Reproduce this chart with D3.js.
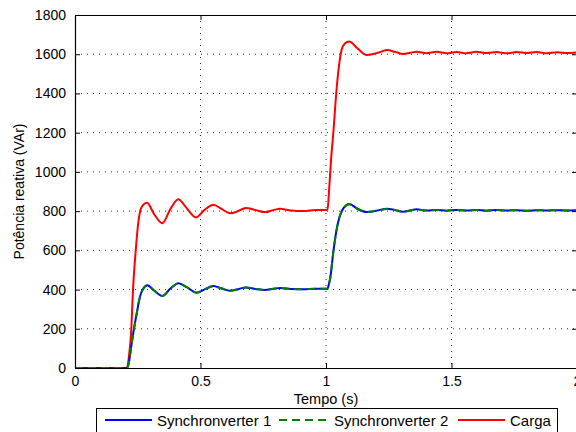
<!DOCTYPE html>
<html>
<head>
<meta charset="utf-8">
<script src="https://cdn.jsdelivr.net/npm/d3@7"></script>
<style>
  body { margin: 0; background: #fff; }
  svg { display: block; font-family: 'Liberation Sans', Arial, sans-serif; }
</style>
</head>
<body>
<svg></svg>
<script>
const margin = { top: 15, right: -1, bottom: 64, left: 75 };
const W = 576, H = 432;
const w = W - margin.left - margin.right;
const h = H - margin.top - margin.bottom;

// time stamps (s) and reactive power (VAr)
const tSync = [0, 0.208, 0.215, 0.223, 0.232, 0.246, 0.259, 0.272, 0.288, 0.315, 0.348, 0.38, 0.412, 0.445,
  0.485, 0.515, 0.551, 0.585, 0.618, 0.65, 0.68, 0.72, 0.757, 0.79, 0.817, 0.86, 0.91, 0.96, 1.006,
  1.011, 1.017, 1.029, 1.042, 1.055, 1.069, 1.093, 1.125, 1.162, 1.2, 1.244, 1.275, 1.308, 1.335, 1.361,
  1.4, 1.44, 1.48, 1.52, 1.56, 1.6, 1.64, 1.68, 1.72, 1.76, 1.8, 1.84, 1.88, 1.92, 1.96, 2.0];
const qSync1 = [0, 0, 30, 100, 177, 279, 364, 405, 422, 395, 367, 405, 432, 412,
  384, 400, 418, 405, 394, 402, 411, 403, 398, 404, 408, 403, 402, 404, 404,
  425, 460, 590, 704, 775, 814, 836, 812, 795, 802, 812, 805, 797, 803, 809,
  803, 806, 802, 806, 803, 806, 802, 806, 803, 805, 802, 805, 803, 805, 803, 804];
const qSync2 = [0, 0, 30, 100, 176, 278, 363, 404, 421, 395, 367, 404, 431, 412,
  384, 400, 417, 405, 394, 402, 410, 403, 398, 404, 408, 403, 402, 404, 404,
  424, 459, 589, 703, 775, 813, 835, 812, 795, 802, 811, 805, 797, 803, 808,
  803, 806, 802, 806, 803, 806, 802, 806, 803, 805, 802, 805, 803, 805, 803, 804];

const tLoad = [0, 0.207, 0.215, 0.223, 0.232, 0.242, 0.252, 0.265, 0.287, 0.315, 0.348, 0.38, 0.412, 0.445,
  0.482, 0.515, 0.551, 0.585, 0.618, 0.65, 0.68, 0.72, 0.757, 0.79, 0.817, 0.86, 0.91, 0.96, 1.006,
  1.012, 1.02, 1.029, 1.043, 1.062, 1.075, 1.093, 1.125, 1.162, 1.2, 1.244, 1.275, 1.308, 1.335, 1.361,
  1.4, 1.44, 1.48, 1.52, 1.56, 1.6, 1.64, 1.68, 1.72, 1.76, 1.8, 1.84, 1.88, 1.92, 1.96, 2.0];
const qLoad = [0, 0, 60, 170, 420, 600, 740, 820, 843, 785, 738, 810, 860, 815,
  768, 805, 833, 810, 789, 800, 816, 805, 795, 805, 812, 803, 800, 806, 806,
  900, 1060, 1197, 1434, 1621, 1655, 1665, 1630, 1596, 1605, 1621, 1612, 1601, 1607, 1613,
  1605, 1612, 1605, 1611, 1605, 1612, 1606, 1611, 1605, 1611, 1606, 1611, 1605, 1610, 1606, 1609];

const xTicks = [0, 0.5, 1, 1.5, 2];
const yTicks = [0, 200, 400, 600, 800, 1000, 1200, 1400, 1600, 1800];
const seriesNames = ['Synchronverter 1', 'Synchronverter 2', 'Carga'];

const svg = d3.select('svg').attr('width', W).attr('height', H);
const g = svg.append('g').attr('transform', `translate(${margin.left}, ${margin.top})`);

const xScale = d3.scaleLinear().domain([0, 2]).range([0, w]);
const yScale = d3.scaleLinear().domain([0, 1800]).range([h, 0]);

// dotted grid
g.selectAll('.gx').data(xTicks.slice(1, -1)).enter().append('line')
  .attr('x1', d => xScale(d)).attr('x2', d => xScale(d))
  .attr('y1', 0).attr('y2', h)
  .attr('stroke', '#333').attr('stroke-width', 1).attr('stroke-dasharray', '1,5');
g.selectAll('.gy').data(yTicks.slice(1, -1)).enter().append('line')
  .attr('x1', 0).attr('x2', w)
  .attr('y1', d => yScale(d)).attr('y2', d => yScale(d))
  .attr('stroke', '#333').attr('stroke-width', 1).attr('stroke-dasharray', '1,5');

const line = (ts) => d3.line()
  .x((d, i) => xScale(ts[i]))
  .y(d => yScale(d))
  .curve(d3.curveMonotoneX);

g.append('path').datum(qLoad).attr('d', line(tLoad))
  .attr('fill', 'none').attr('stroke', '#ff0000').attr('stroke-width', 2);
g.append('path').datum(qSync1).attr('d', line(tSync))
  .attr('fill', 'none').attr('stroke', '#0000ff').attr('stroke-width', 2);
g.append('path').datum(qSync2).attr('d', line(tSync))
  .attr('fill', 'none').attr('stroke', '#008000').attr('stroke-width', 2)
  .attr('stroke-dasharray', '8,5');

// axes with inward ticks
const yAxis = d3.axisLeft(yScale).tickValues(yTicks).tickFormat(d3.format('d'))
  .tickSizeInner(-5).tickSizeOuter(0).tickPadding(9);
const xAxis = d3.axisBottom(xScale).tickValues(xTicks).tickFormat(d3.format(''))
  .tickSizeInner(-5).tickSizeOuter(0).tickPadding(8);

g.append('g').call(yAxis);
g.append('g').attr('transform', `translate(0, ${h})`).call(xAxis);
g.append('g').call(d3.axisTop(xScale).tickValues(xTicks).tickSizeInner(-5).tickSizeOuter(0).tickFormat(''));
g.append('g').attr('transform', `translate(${w}, 0)`)
  .call(d3.axisRight(yScale).tickValues(yTicks).tickSizeInner(-5).tickSizeOuter(0).tickFormat(''));
g.selectAll('.domain').attr('stroke', '#000').attr('stroke-width', 1.2);
g.selectAll('.tick line').attr('stroke', '#000');
g.selectAll('.tick text').attr('fill', '#000').style('font-size', '14px')
  .style('font-family', "'Liberation Sans', Arial, sans-serif");

// axis titles
svg.append('text')
  .attr('transform', 'rotate(-90)')
  .attr('x', -(margin.top + h / 2)).attr('y', 24)
  .style('text-anchor', 'middle').style('font-size', '14px')
  .text('Potência reativa (VAr)');
svg.append('text')
  .attr('x', margin.left + xScale(1)).attr('y', 404)
  .style('text-anchor', 'middle').style('font-size', '14.5px')
  .text('Tempo (s)');

// legend
const leg = svg.append('g');
leg.append('rect').attr('x', 96.5).attr('y', 408.5).attr('width', 461).attr('height', 30)
  .attr('fill', '#fff').attr('stroke', '#000').attr('stroke-width', 1);
const legItems = [
  { name: seriesNames[0], color: '#0000ff', dash: null, x0: 105, tx: 157 },
  { name: seriesNames[1], color: '#008000', dash: '8,5', x0: 279, tx: 334 },
  { name: seriesNames[2], color: '#ff0000', dash: null, x0: 458, tx: 510 }
];
legItems.forEach(it => {
  leg.append('line').attr('x1', it.x0).attr('x2', it.x0 + 47).attr('y1', 420).attr('y2', 420)
    .attr('stroke', it.color).attr('stroke-width', 2).attr('stroke-dasharray', it.dash);
  leg.append('text').attr('x', it.tx).attr('y', 425.5).style('font-size', '15px').text(it.name);
});
</script>
</body>
</html>
